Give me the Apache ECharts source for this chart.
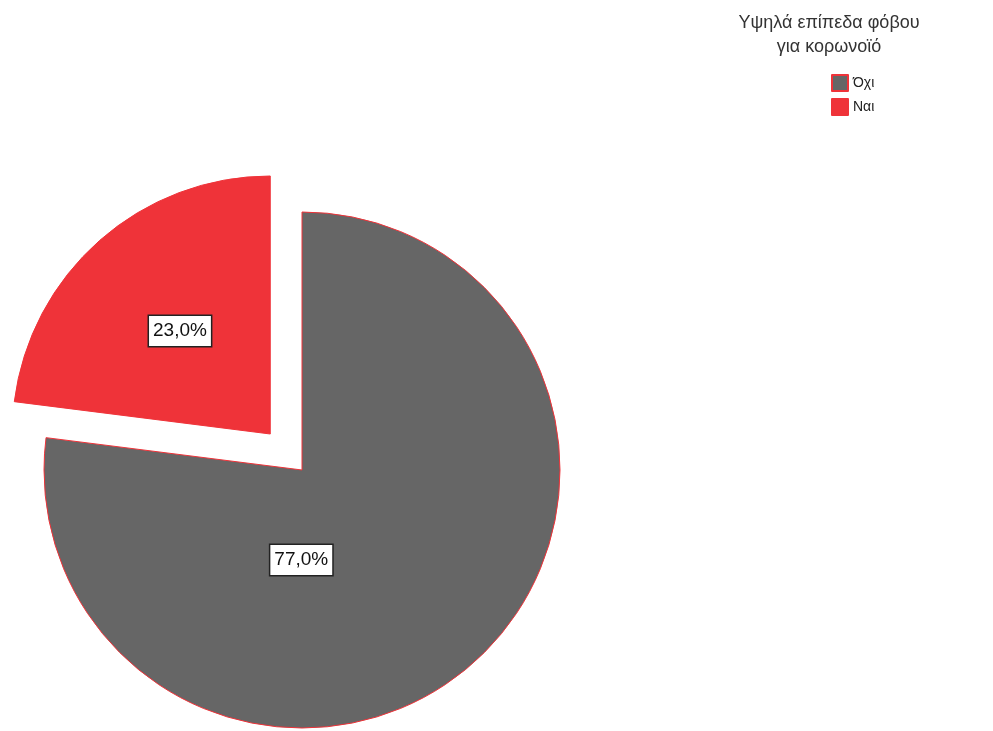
<!DOCTYPE html>
<html>
<head>
<meta charset="utf-8">
<script src="https://cdn.jsdelivr.net/npm/echarts@6/dist/echarts.min.js"></script>
<style>
  html, body { margin: 0; padding: 0; background: #fff; }
  #chart { width: 993px; height: 731px; }
</style>
</head>
<body>
<div id="chart"></div>
<script>
// Fear-of-coronavirus shares, in percent
const categories = ['Όχι', 'Ναι'];
const shares = [77.0, 23.0];
const legendTitle = 'Υψηλά επίπεδα φόβου\nγια κορωνοϊό';

const sliceColors = ['#666666', '#ef3339'];
const edgeColor = '#ef3339';
const fontFamily = '"Liberation Sans", Arial, sans-serif';

// The second slice ("Ναι") is pulled out of the pie
const pulledOut = [false, true];
// Label nudges per slice, in pixels
const labelNudge = [[-88, -9], [-3, -4]];

const pieData = categories.map((name, i) => ({
  name: name,
  value: shares[i],
  selected: pulledOut[i],
  itemStyle: { color: sliceColors[i] }
}));

const chart = echarts.init(document.getElementById('chart'), null, { renderer: 'canvas' });
chart.setOption({
  animation: false,
  backgroundColor: '#ffffff',
  title: {
    text: legendTitle,
    left: 829,
    top: 11,
    padding: 0,
    textAlign: 'center',
    textStyle: {
      fontFamily: fontFamily,
      fontSize: 18,
      fontWeight: 'normal',
      color: '#333333',
      lineHeight: 24
    }
  },
  legend: {
    orient: 'vertical',
    left: 831,
    top: 74,
    padding: 0,
    itemWidth: 16,
    itemHeight: 16,
    itemGap: 6,
    icon: 'rect',
    selectedMode: false,
    data: categories,
    textStyle: { fontFamily: fontFamily, fontSize: 14, color: '#222222' }
  },
  series: [{
    type: 'pie',
    center: [302, 470],
    radius: 258,
    startAngle: 90,
    clockwise: true,
    selectedMode: 'multiple',
    selectedOffset: 48,
    silent: true,
    data: pieData,
    itemStyle: { borderColor: edgeColor, borderWidth: 1 },
    label: {
      show: true,
      position: 'inside',
      formatter: p => p.value.toFixed(1).replace('.', ',') + '%',
      fontFamily: fontFamily,
      fontSize: 19,
      color: '#111111',
      backgroundColor: '#ffffff',
      borderColor: '#222222',
      borderWidth: 1.5,
      padding: [6, 4, 5, 4]
    },
    labelLayout: p => ({ dx: labelNudge[p.dataIndex][0], dy: labelNudge[p.dataIndex][1] }),
    labelLine: { show: false },
    emphasis: { disabled: true }
  }]
});
</script>
</body>
</html>
